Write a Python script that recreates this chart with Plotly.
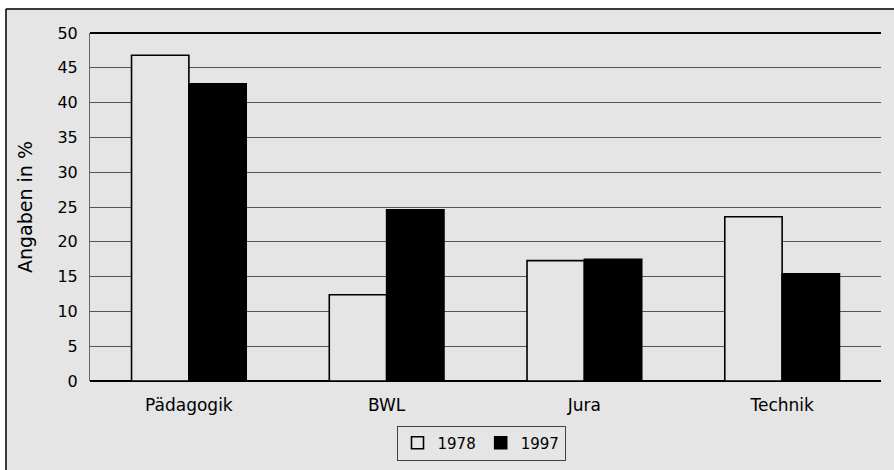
import plotly.graph_objects as go

categories = ["Pädagogik", "BWL", "Jura", "Technik"]
values_1978 = [46.8, 12.4, 17.3, 23.6]
values_1997 = [42.7, 24.6, 17.5, 15.4]
y_ticks = [0, 5, 10, 15, 20, 25, 30, 35, 40, 45, 50]

BG = "#e5e5e5"
FONT = "DejaVu Sans, Liberation Sans, Arial, sans-serif"

# page offset of the figure (body margin set below)
OX, OY = 5, 8
W, H = 894 - OX, 470 - OY
L, T = 90 - OX, 33 - OY
R = W - (881 - OX)
B = H - (381 - OY)
pw, ph = W - L - R, H - T - B

fig = go.Figure()
fig.add_trace(go.Bar(name="1978", x=categories, y=values_1978,
                     marker=dict(color=BG, line=dict(color="black", width=1.6))))
fig.add_trace(go.Bar(name="1997", x=categories, y=values_1997,
                     marker=dict(color="black", line=dict(color="black", width=1.6))))

fig.update_layout(
    width=W, height=H,
    margin=dict(l=L, r=R, t=T, b=B, autoexpand=False),
    paper_bgcolor=BG, plot_bgcolor=BG,
    font=dict(family=FONT, color="black", size=16),
    barmode="group", bargap=0.42, bargroupgap=0,
    showlegend=True,
    legend=dict(orientation="h", x=(481 - 90) / pw, xanchor="center",
                y=(381 - 443) / ph, yanchor="middle",
                bgcolor=BG, bordercolor="#444", borderwidth=1,
                font=dict(size=15, family=FONT), itemwidth=30,
                tracegroupgap=0),
    xaxis=dict(showgrid=False, showline=False, ticks="", automargin=False,
               ticklabelstandoff=12, tickfont=dict(size=17)),
    yaxis=dict(range=[0, 50], tickvals=y_ticks, showgrid=True, gridcolor="#555555",
               gridwidth=1, showline=True, linecolor="#666666", linewidth=1,
               zeroline=True, zerolinecolor="black", zerolinewidth=2,
               ticks="", ticklabelstandoff=8, tickfont=dict(size=16), automargin=False,
               title=dict(text="Angaben in %", font=dict(size=19), standoff=19)),
    shapes=[
        dict(type="line", xref="paper", yref="paper", x0=0, x1=1, y0=1, y1=1,
             line=dict(color="black", width=2)),
        dict(type="line", xref="paper", yref="paper",
             x0=(-L + 1) / pw, x1=(-L + 1) / pw, y0=-0.5, y1=1 + (T - 1) / ph,
             line=dict(color="black", width=1.5)),
        dict(type="line", xref="paper", yref="paper",
             x0=(-L + 1) / pw, x1=1.2, y0=1 + (T - 1) / ph, y1=1 + (T - 1) / ph,
             line=dict(color="black", width=1.5)),
    ],
)

fig.write_html(
    "out.html",
    post_script="document.body.style.margin='%dpx 0 0 %dpx';document.body.style.overflow='hidden';" % (OY, OX),
)
